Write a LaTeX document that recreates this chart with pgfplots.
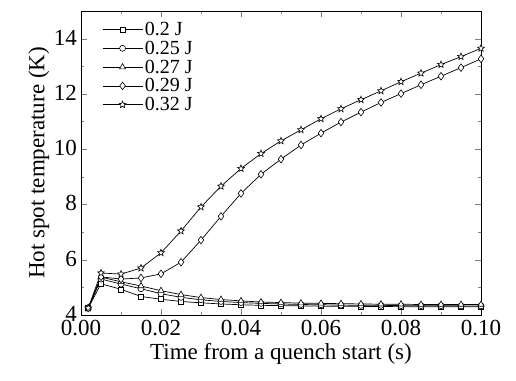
\documentclass[border=0pt]{standalone}
\usepackage{fontspec}
\setmainfont{Liberation Serif}
\usepackage{pgfplots}
\pgfplotsset{compat=1.18}
\pgfdeclareplotmark{ostar}{%
  \pgfpathmoveto{\pgfqpointpolar{90}{\pgfplotmarksize}}%
  \pgfpathlineto{\pgfqpointpolar{126}{0.45\pgfplotmarksize}}%
  \pgfpathlineto{\pgfqpointpolar{162}{\pgfplotmarksize}}%
  \pgfpathlineto{\pgfqpointpolar{198}{0.45\pgfplotmarksize}}%
  \pgfpathlineto{\pgfqpointpolar{234}{\pgfplotmarksize}}%
  \pgfpathlineto{\pgfqpointpolar{270}{0.45\pgfplotmarksize}}%
  \pgfpathlineto{\pgfqpointpolar{306}{\pgfplotmarksize}}%
  \pgfpathlineto{\pgfqpointpolar{342}{0.45\pgfplotmarksize}}%
  \pgfpathlineto{\pgfqpointpolar{18}{\pgfplotmarksize}}%
  \pgfpathlineto{\pgfqpointpolar{54}{0.45\pgfplotmarksize}}%
  \pgfpathclose
  \pgfusepathqfillstroke}
\begin{document}
\begin{tikzpicture}[x=1pt,y=1pt]
\useasboundingbox (-81,-65) rectangle (435,315);
\begin{axis}[
  at={(0,0)}, anchor=south west,
  scale only axis, width=400pt, height=304pt,
  xmin=0, xmax=0.1, ymin=4, ymax=15,
  xtick={0,0.02,...,0.1}, ytick={4,6,...,14},
  minor x tick num=1, minor y tick num=1,
  tick align=inside, tick pos=both,
  major tick length=6pt, minor tick length=3.5pt,
  /pgf/number format/assume math mode=true,
  tick label style={font=\fontsize{23}{25}\selectfont, inner sep=1pt},
  xticklabel style={yshift=-4pt, /pgf/number format/.cd,fixed,fixed zerofill,precision=2},
  yticklabel style={xshift=-3pt, yshift=1pt, /pgf/number format/.cd,fixed},
  scaled x ticks=false,
  label style={font=\fontsize{23}{25}\selectfont},
  xlabel={Time from a quench start (s)},
  ylabel={Hot spot temperature (K)},
  xlabel style={yshift=-3pt},
  legend style={at={(axis cs:0.0045,14.75)}, anchor=north west, draw=none, fill=none,
    font=\fontsize{20}{21}\selectfont, row sep=0pt},
  legend cell align=left,
  legend image code/.code={\draw[mark repeat=2,mark phase=2,#1] plot coordinates {(0pt,0pt) (20pt,0pt) (40pt,0pt)};},
]
\addplot[black, line width=0.7pt, mark=square*, mark size=2.5pt, mark options={fill=white, solid, line width=0.6pt}] coordinates {
(0.0018,4.25)(0.005,5.13)(0.01,4.93)(0.015,4.67)(0.02,4.57)(0.025,4.49)(0.03,4.44)(0.035,4.40)(0.04,4.37)(0.045,4.35)(0.05,4.34)(0.055,4.33)(0.06,4.32)(0.065,4.32)(0.07,4.31)(0.075,4.31)(0.08,4.30)(0.085,4.30)(0.09,4.30)(0.095,4.30)(0.1,4.30)};
\addlegendentry{0.2 J}
\addplot[black, line width=0.7pt, mark=*, mark size=3pt, mark options={fill=white, solid, line width=0.6pt}] coordinates {
(0.0018,4.25)(0.005,5.30)(0.01,5.12)(0.015,4.95)(0.02,4.77)(0.025,4.64)(0.03,4.55)(0.035,4.49)(0.04,4.45)(0.045,4.42)(0.05,4.40)(0.055,4.38)(0.06,4.37)(0.065,4.36)(0.07,4.35)(0.075,4.35)(0.08,4.34)(0.085,4.34)(0.09,4.34)(0.095,4.33)(0.1,4.33)};
\addlegendentry{0.25 J}
\addplot[black, line width=0.7pt, mark=triangle*, mark size=3.5pt, mark options={fill=white, solid, line width=0.6pt}] coordinates {
(0.0018,4.25)(0.005,5.37)(0.01,5.20)(0.015,5.05)(0.02,4.88)(0.025,4.74)(0.03,4.63)(0.035,4.56)(0.04,4.51)(0.045,4.47)(0.05,4.45)(0.055,4.43)(0.06,4.42)(0.065,4.41)(0.07,4.40)(0.075,4.39)(0.08,4.39)(0.085,4.38)(0.09,4.38)(0.095,4.38)(0.1,4.38)};
\addlegendentry{0.27 J}
\addplot[black, line width=0.7pt, mark=diamond*, mark size=3.8pt, mark options={fill=white, solid, line width=0.6pt}] coordinates {
(0.0018,4.25)(0.005,5.38)(0.01,5.30)(0.015,5.34)(0.02,5.49)(0.025,5.91)(0.03,6.71)(0.035,7.57)(0.04,8.40)(0.045,9.09)(0.05,9.64)(0.055,10.15)(0.06,10.58)(0.065,10.98)(0.07,11.34)(0.075,11.69)(0.08,12.01)(0.085,12.33)(0.09,12.64)(0.095,12.95)(0.1,13.27)};
\addlegendentry{0.29 J}
\addplot[black, line width=0.7pt, mark=ostar, mark size=3.6pt, mark options={fill=white, solid, line width=0.6pt}] coordinates {
(0.0018,4.25)(0.005,5.52)(0.01,5.48)(0.015,5.70)(0.02,6.25)(0.025,7.04)(0.03,7.91)(0.035,8.66)(0.04,9.30)(0.045,9.84)(0.05,10.30)(0.055,10.70)(0.06,11.10)(0.065,11.46)(0.07,11.79)(0.075,12.11)(0.08,12.44)(0.085,12.75)(0.09,13.06)(0.095,13.35)(0.1,13.65)};
\addlegendentry{0.32 J}
\end{axis}
\end{tikzpicture}
\end{document}
